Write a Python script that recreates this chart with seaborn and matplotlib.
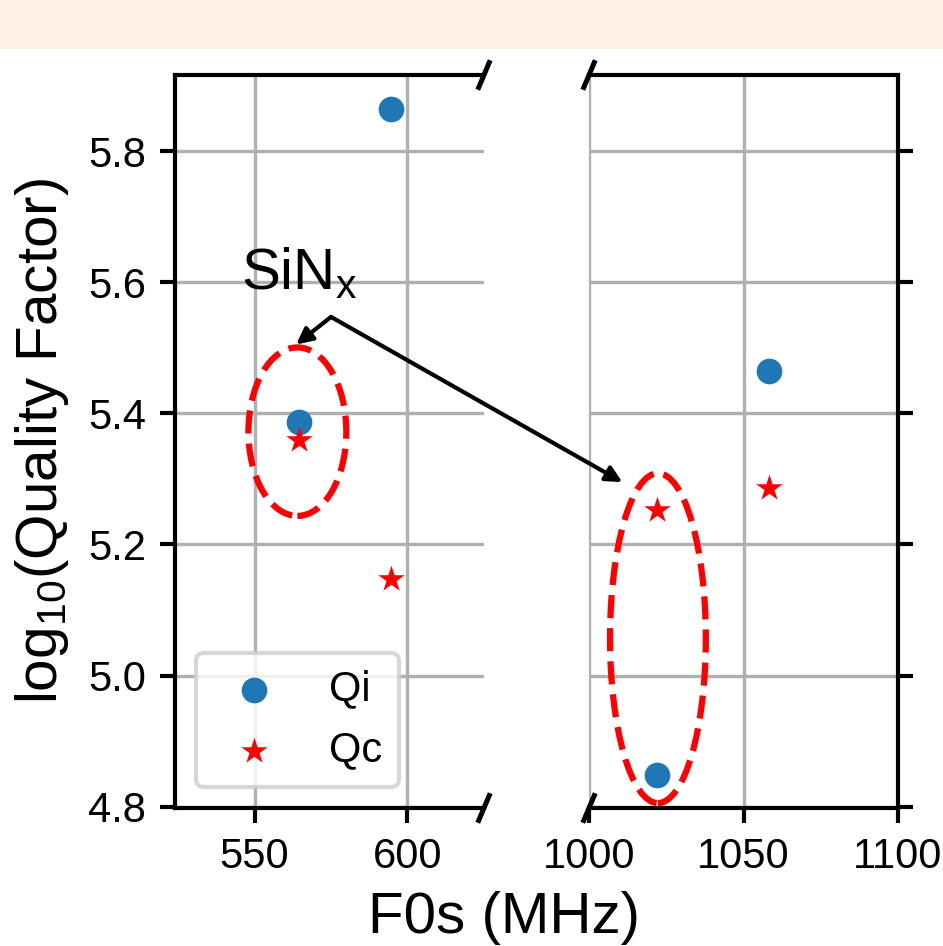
import numpy as np
import matplotlib.pyplot as plt
import seaborn as sns
from matplotlib.patches import Ellipse, Rectangle

# resonance frequencies (MHz) and log10 quality factors
freq_qi = [564.4, 594.5, 1022.0, 1058.4]
log_qi = [5.386, 5.864, 4.849, 5.464]
freq_qc = [564.4, 594.5, 1022.0, 1058.4]
log_qc = [5.360, 5.148, 5.252, 5.286]

left_ticks = [550, 600]
right_ticks = [1000, 1050, 1100]
y_ticks = [4.8, 5.0, 5.2, 5.4, 5.6, 5.8]

plt.rcParams['font.family'] = ['Liberation Sans', 'DejaVu Sans']
plt.rcParams['mathtext.default'] = 'regular'
plt.rcParams['font.size'] = 10
plt.rcParams['axes.linewidth'] = 1.0
plt.rcParams['xtick.major.width'] = 1.0
plt.rcParams['ytick.major.width'] = 1.0

fig, (ax1, ax2) = plt.subplots(1, 2, sharey=True, figsize=(943 / 300, 946 / 300), dpi=300)
fig.subplots_adjust(left=175 / 943, right=898 / 943, top=1 - 75 / 946, bottom=1 - 808 / 946, wspace=0.34)

# peach band at the top
fig.add_artist(Rectangle((0, 1 - 47 / 946), 1, 47 / 946, transform=fig.transFigure,
                         color='#FDF1E3', zorder=-1))

for ax in (ax1, ax2):
    ax.grid(True)
    ax.set_axisbelow(True)
    first = ax is ax1
    sns.scatterplot(x=freq_qi, y=log_qi, ax=ax, color='#1f77b4', marker='o', s=38,
                    linewidth=0, label='Qi' if first else None, legend=False, zorder=3)
    sns.scatterplot(x=freq_qc, y=log_qc, ax=ax, color='red', marker='*', s=44,
                    linewidth=0, label='Qc' if first else None, legend=False, zorder=4)

ax1.set_xlim(524, 625)
ax2.set_xlim(1000, 1100)
ax1.set_ylim(4.798, 5.916)
ax1.set_xticks(left_ticks)
ax2.set_xticks(right_ticks)
ax1.set_yticks(y_ticks)

ax1.spines['right'].set_visible(False)
ax2.spines['left'].set_visible(False)
ax2.yaxis.tick_right()
ax2.tick_params(axis='y', labelright=False, labelleft=False)

# broken axis marks
d = 0.017
kw = dict(color='k', clip_on=False, lw=1.2)
ax1.plot((1 - d, 1 + d), (-d, d), transform=ax1.transAxes, **kw)
ax1.plot((1 - d, 1 + d), (1 - d, 1 + d), transform=ax1.transAxes, **kw)
ax2.plot((-d, d), (-d, d), transform=ax2.transAxes, **kw)
ax2.plot((-d, d), (1 - d, 1 + d), transform=ax2.transAxes, **kw)

# SiNx groups
ax1.add_patch(Ellipse((564.0, 5.372), 32, 0.257, fill=False, ec='red', ls='--', lw=1.5, zorder=5))
ax2.add_patch(Ellipse((1022.3, 5.057), 31, 0.503, fill=False, ec='red', ls='--', lw=1.5,
                      zorder=5, clip_on=False))

ax1.text(545.5, 5.59, 'SiN$_x$', fontsize=14, va='baseline')
arrow = dict(arrowstyle='-|>', color='k', lw=1, shrinkA=0, shrinkB=0, mutation_scale=8)
ax1.annotate('', xy=(563.6, 5.505), xytext=(575.0, 5.547), arrowprops=arrow,
             annotation_clip=False)
ax2.annotate('', xy=(1010.8, 5.295), xytext=(575.0, 5.547), textcoords=ax1.transData,
             arrowprops=arrow, annotation_clip=False)

ax1.legend(loc='lower left', fontsize=10)
ax1.set_ylabel('log$_{10}$(Quality Factor)', fontsize=14)
fig.text(504 / 943, 1 - 933 / 946, 'F0s (MHz)', ha='center', va='baseline', fontsize=14)

fig.savefig('out.png', dpi=300)
